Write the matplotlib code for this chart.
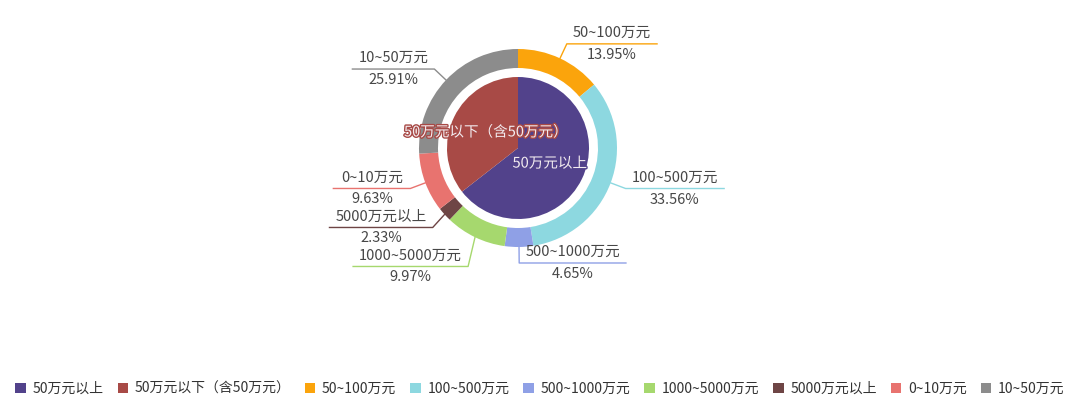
import matplotlib.pyplot as plt
import matplotlib.patheffects as pe
from matplotlib.patches import Patch
import numpy as np

plt.rcParams['font.family'] = ['Noto Sans CJK SC', 'DejaVu Sans']

# data
inner_names = ['50万元以上', '50万元以下（含50万元）']
inner_pct = [64.46, 35.54]
inner_colors = ['#52428b', '#a84a46']

outer_names = ['50~100万元', '100~500万元', '500~1000万元', '1000~5000万元',
               '5000万元以上', '0~10万元', '10~50万元']
outer_pct = [13.95, 33.56, 4.65, 9.97, 2.33, 9.63, 25.91]
outer_colors = ['#fba40c', '#8dd8e0', '#8fa0e6', '#a6d86e',
                '#6e4545', '#e8736f', '#8c8c8c']

text_color = '#474747'

# figure in pixel units
fig = plt.figure(figsize=(10.8, 4.03), dpi=100)
ax = fig.add_axes([0, 0, 1, 1])

cx, cy = 518, 403 - 148
r_in, r_out, ring_w = 71, 99, 19

ax.pie(inner_pct, colors=inner_colors, radius=r_in, center=(cx, cy),
       startangle=90, counterclock=False, wedgeprops=dict(linewidth=0))
ax.pie(outer_pct, colors=outer_colors, radius=r_out, center=(cx, cy),
       startangle=90, counterclock=False,
       wedgeprops=dict(width=ring_w, linewidth=0))

ax.set_xlim(0, 1080)
ax.set_ylim(0, 403)
ax.set_aspect('equal')
ax.axis('off')

# inner labels
cum = 0
for name, p, c in zip(inner_names, inner_pct, inner_colors):
    th = np.radians(360 * (cum + p / 2) / 100)
    cum += p
    x = cx + 0.5 * r_in * np.sin(th)
    y = cy + 0.5 * r_in * np.cos(th)
    ax.text(x, y, name, ha='center', va='center', fontsize=10.5, color='#f3ecf0',
            path_effects=[pe.withStroke(linewidth=2, foreground=c)])

# outer labels with elbow lines
renderer = fig.canvas.get_renderer()
items = []
cum = 0
for name, p, c in zip(outer_names, outer_pct, outer_colors):
    th = np.radians(360 * (cum + p / 2) / 100)
    cum += p
    sx, sy = cx + r_out * np.sin(th), cy + r_out * np.cos(th)
    ex, ey = cx + 115 * np.sin(th), cy + 115 * np.cos(th)
    side = 1 if np.sin(th) > -1e-6 else -1
    items.append(dict(name=name, p=p, c=c, sx=sx, sy=sy, ex=ex, ey=ey, side=side))

# push labels apart on each side
gap = 39
for side in (1, -1):
    grp = sorted([it for it in items if it['side'] == side], key=lambda it: -it['ey'])
    for a, b in zip(grp, grp[1:]):
        if a['ey'] - b['ey'] < gap:
            b['ey'] = a['ey'] - gap

for it in items:
    t = ax.text(0, 0, it['name'], ha='center', va='center', fontsize=10.5, color=text_color)
    w = t.get_window_extent(renderer).width
    seg = max(w + 12, 77)
    x_end = it['ex'] + it['side'] * seg
    xm = (it['ex'] + x_end) / 2
    t.set_position((xm, it['ey'] + 11))
    ax.text(xm, it['ey'] - 11, f"{it['p']:.2f}%", ha='center', va='center',
            fontsize=10.5, color=text_color)
    ax.plot([it['sx'], it['ex'], x_end], [it['sy'], it['ey'], it['ey']],
            color=it['c'], linewidth=1)

# legend
handles = [Patch(facecolor=c, edgecolor='none') for c in inner_colors + outer_colors]
fig.legend(handles, inner_names + outer_names, loc='center',
           bbox_to_anchor=(0.5, 14 / 403), ncol=9, frameon=False,
           handlelength=0.75, handleheight=0.75, handletextpad=0.5,
           columnspacing=1.0, fontsize=10, labelcolor='#333333')

fig.savefig('out.png', dpi=100)
